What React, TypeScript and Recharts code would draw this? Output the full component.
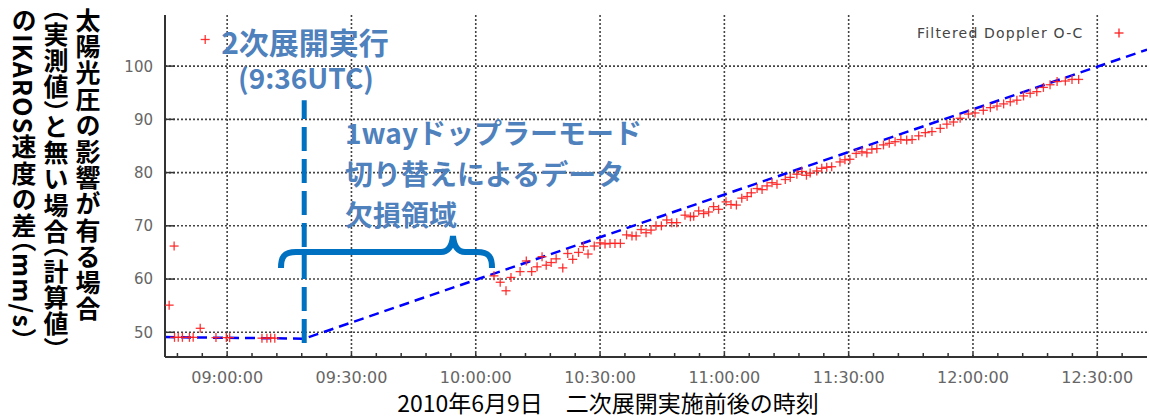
import React from 'react';
import { ComposedChart, Scatter, Line, XAxis, YAxis, ReferenceLine } from 'recharts';

// time in minutes since 00:00 UTC, value in mm/s
const obsTimes = [
  526.0, 527.2, 534.7, 527.3, 528.2, 529.2, 530.9, 531.8, 533.5, 537.3, 539.8, 540.6, 548.4, 549.6, 550.5, 551.5,
  604.4, 605.9, 607.3, 608.5, 610.7, 612.2, 613.5, 614.8, 616.0, 617.0, 618.2, 619.4, 621.0, 622.2, 623.4, 624.8,
  626.0, 627.1, 628.6, 630.0, 631.2, 632.4, 633.6, 634.9, 636.4, 637.7, 638.7, 639.9, 641.1, 642.3, 643.5, 644.8,
  646.1, 647.3, 648.5, 650.5, 651.8, 652.6, 653.8, 655.0, 656.2, 657.4, 658.6, 660.4, 661.6, 662.9, 664.2, 665.5,
  666.5, 667.9, 669.1, 670.3, 671.5, 672.7, 674.7, 675.9, 677.5, 678.7, 679.8, 680.7, 682.3, 683.5, 684.7, 685.9,
  687.9, 689.1, 690.3, 691.8, 693.2, 694.4, 695.6, 696.8, 698.4, 699.8, 701.2, 702.6, 704.0, 705.3, 706.9, 708.5,
  710.1, 712.1, 713.7, 715.3, 716.9, 718.9, 720.5, 722.5, 724.2, 725.8, 727.4, 729.0, 730.6, 732.2, 733.8, 735.4,
  737.0, 738.6, 740.3, 742.3, 743.9, 745.5,
];
const obsValues = [
  55.1, 66.2, 105.0, 49.05, 49.05, 49.05, 49.05, 49.05, 50.75, 49.0, 49.0, 49.0, 48.9, 48.9, 48.95, 48.9,
  60.6, 59.4, 57.8, 60.3, 61.4, 63.4, 61.4, 62.3, 64.2, 62.6, 63.1, 63.8, 62.1, 64.8, 63.7, 65.0,
  66.1, 64.7, 66.2, 66.8, 66.6, 66.7, 66.7, 66.7, 68.3, 68.1, 68.1, 69.3, 68.7, 69.2, 70.0, 70.0,
  71.1, 70.6, 70.6, 72.0, 71.7, 71.8, 72.8, 72.3, 72.6, 73.6, 73.1, 74.5, 74.0, 73.9, 75.2, 75.5,
  76.2, 77.0, 76.8, 77.5, 78.1, 77.8, 78.7, 79.1, 79.7, 80.2, 79.5, 79.9, 80.3, 80.8, 81.0, 81.1,
  82.0, 82.4, 82.5, 83.6, 83.9, 83.7, 84.4, 84.5, 85.2, 85.5, 85.8, 86.2, 86.1, 86.2, 86.9, 87.5,
  87.7, 88.3, 89.1, 89.5, 90.2, 91.0, 91.2, 91.7, 92.2, 92.5, 92.9, 93.3, 93.6, 94.4, 94.9, 95.2,
  96.0, 96.5, 97.1, 97.2, 97.5, 97.5,
];

// computed (no solar pressure) trend
const trendTimes = [525, 558.6, 762];
const trendValues = [49.1, 48.8, 103.1];

const deployTime = 558.6;
const deployLineRange = [48.0, 93.6];

const xDomain = [525, 762];
const yDomain = [45.36, 109.6];
const majorXTicks = [540, 570, 600, 630, 660, 690, 720, 750];
const minorXTicks = [528, 534, 540, 546, 552, 558, 564, 570, 576, 582, 588, 594, 600, 606, 612, 618, 624, 630, 636, 642, 648, 654, 660, 666, 672, 678, 684, 690, 696, 702, 708, 714, 720, 726, 732, 738, 744, 750, 756];
const yTicks = [50, 60, 70, 80, 90, 100];

const obsData = obsTimes.map((t, i) => ({ x: t, y: obsValues[i] }));
const trendData = trendTimes.map((t, i) => ({ x: t, y: trendValues[i] }));

const pad = (n: number) => (n < 10 ? '0' + n : '' + n);
const fmtTime = (m: number) => `${pad(Math.floor(m / 60))}:${pad(m % 60)}:00`;

const PlusShape = (props: any) => {
  const { cx, cy } = props;
  if (cx == null || cy == null) return null;
  const r = 4.5;
  return (
    <g stroke="#ff1e1e" strokeWidth={1.3} strokeOpacity={0.9}>
      <line x1={cx - r} y1={cy} x2={cx + r} y2={cy} />
      <line x1={cx} y1={cy - r} x2={cx} y2={cy + r} />
    </g>
  );
};

const BottomTick = (props: any) => {
  const { x, y, payload } = props;
  const m = payload.value;
  const major = m % 30 === 0;
  return (
    <g>
      <line x1={x} y1={y} x2={x} y2={y - 4} stroke="#333" strokeWidth={1.5} />
      {major && (
        <text x={x} y={y + 26} textAnchor="middle" fill="#666" fontSize={16} fontFamily="DejaVu Sans">
          {fmtTime(m)}
        </text>
      )}
    </g>
  );
};

const TopTick = (props: any) => {
  const { x, y } = props;
  return <line x1={x} y1={y} x2={x} y2={y + 6} stroke="#555" strokeWidth={1.5} />;
};

const LeftTick = (props: any) => {
  const { x, y, payload } = props;
  return (
    <g>
      <line x1={x} y1={y} x2={x + 10} y2={y} stroke="#333" strokeWidth={1.5} />
      <text x={x - 12} y={y} dy="0.36em" textAnchor="end" fill="#666" fontSize={15} fontFamily="DejaVu Sans">
        {payload.value}
      </text>
    </g>
  );
};

const gridStyle = { stroke: '#444', strokeWidth: 1.6, strokeDasharray: '2 2' };

export default function App() {
  const annColor = '#4f81bd';
  const cjk = '"Noto Sans CJK JP", sans-serif';
  return (
    <div style={{ position: 'absolute', left: 0, top: 0, width: 1149, height: 417, background: '#fff', overflow: 'hidden' }}>
      <ComposedChart width={1149} height={417} margin={{ top: 15, right: 2, bottom: 0, left: 105 }}>
        <XAxis
          type="number"
          dataKey="x"
          domain={xDomain}
          ticks={minorXTicks}
          interval={0}
          height={60}
          tickSize={0}
          tickMargin={0}
          tickLine={false}
          axisLine={{ stroke: '#333', strokeWidth: 2 }}
          tick={<BottomTick />}
          allowDataOverflow
        />
        <XAxis
          xAxisId="top"
          orientation="top"
          type="number"
          dataKey="x"
          domain={xDomain}
          ticks={minorXTicks}
          interval={0}
          height={0}
          tickSize={0}
          tickMargin={0}
          tickLine={false}
          axisLine={{ stroke: '#666', strokeWidth: 1.5 }}
          tick={<TopTick />}
          allowDataOverflow
        />
        <YAxis
          type="number"
          dataKey="y"
          domain={yDomain}
          ticks={yTicks}
          interval={0}
          width={60}
          tickSize={0}
          tickMargin={0}
          tickLine={false}
          axisLine={{ stroke: '#333', strokeWidth: 2 }}
          tick={<LeftTick />}
          allowDataOverflow
        />
        {majorXTicks.map((t) => (
          <ReferenceLine key={'gx' + t} x={t} {...gridStyle} />
        ))}
        {yTicks.map((v) => (
          <ReferenceLine key={'gy' + v} y={v} {...gridStyle} />
        ))}
        <Line
          data={trendData}
          dataKey="y"
          type="linear"
          stroke="#0000ff"
          strokeWidth={2.5}
          strokeDasharray="10 6"
          dot={false}
          activeDot={false}
          isAnimationActive={false}
        />
        <Scatter data={obsData} dataKey="y" shape={PlusShape} isAnimationActive={false} />
        <ReferenceLine
          segment={[
            { x: deployTime, y: deployLineRange[0] },
            { x: deployTime, y: deployLineRange[1] },
          ]}
          stroke="#0070c0"
          strokeWidth={5}
          strokeDasharray="24 8"
        />
      </ComposedChart>

      {/* Y-axis title (vertical) */}
      <div
        style={{
          position: 'absolute',
          left: 8,
          top: 8,
          height: 400,
          writingMode: 'vertical-rl' as any,
          textOrientation: 'mixed' as any,
          fontFamily: cjk,
          fontWeight: 'bold',
          fontSize: 25,
          lineHeight: '32px',
          letterSpacing: 1.2,
          color: '#000',
          fontFeatureSettings: '"vhal" 1',
        }}
      >
        太陽光圧の影響が有る場合
        <br />
        （実測値）と無い場合（計算値）
        <br />
        のIKAROS速度の差（mm/s）
      </div>

      {/* X-axis title */}
      <div
        style={{
          position: 'absolute',
          left: 358,
          width: 500,
          top: 392,
          textAlign: 'center',
          fontFamily: cjk,
          fontSize: 23,
          lineHeight: '21px',
          color: '#000',
          whiteSpace: 'nowrap',
        }}
      >
        2010年6月9日　二次展開実施前後の時刻
      </div>

      {/* annotations */}
      <div style={{ position: 'absolute', left: 155, width: 300, top: 26, textAlign: 'center', fontFamily: cjk, fontWeight: 'bold', fontSize: 30, lineHeight: '30px', color: annColor, whiteSpace: 'nowrap' }}>
        2次展開実行
      </div>
      <div style={{ position: 'absolute', left: 156, width: 300, top: 63, textAlign: 'center', fontFamily: cjk, fontWeight: 'bold', fontSize: 28, lineHeight: '28px', color: annColor, whiteSpace: 'nowrap' }}>
        (9:36UTC)
      </div>
      <div style={{ position: 'absolute', left: 345, top: 112, fontFamily: cjk, fontWeight: 'bold', fontSize: 28, lineHeight: '41px', color: annColor, whiteSpace: 'nowrap' }}>
        1wayドップラーモード
        <br />
        切り替えによるデータ
        <br />
        欠損領域
      </div>

      {/* brace */}
      <svg width={1149} height={417} style={{ position: 'absolute', left: 0, top: 0, pointerEvents: 'none' }}>
        <path
          d="M 281 268 C 281 257, 284 252, 296 252 L 441 252 C 448 252, 452 246, 453 236 C 454 246, 458 252, 465 252 L 477 252 C 489 252, 492 257, 492 268"
          fill="none"
          stroke="#0070c0"
          strokeWidth={6}
        />
      </svg>

      {/* legend */}
      <div style={{ position: 'absolute', left: 917, top: 24, fontFamily: 'DejaVu Sans', fontSize: 14, letterSpacing: 1.2, lineHeight: '18px', color: '#444', whiteSpace: 'nowrap' }}>
        Filtered Doppler O-C
      </div>
      <svg width={14} height={14} style={{ position: 'absolute', left: 1112, top: 26 }}>
        <line x1={2.5} y1={7} x2={11.5} y2={7} stroke="#ff1e1e" strokeWidth={1.3} />
        <line x1={7} y1={2.5} x2={7} y2={11.5} stroke="#ff1e1e" strokeWidth={1.3} />
      </svg>
    </div>
  );
}
